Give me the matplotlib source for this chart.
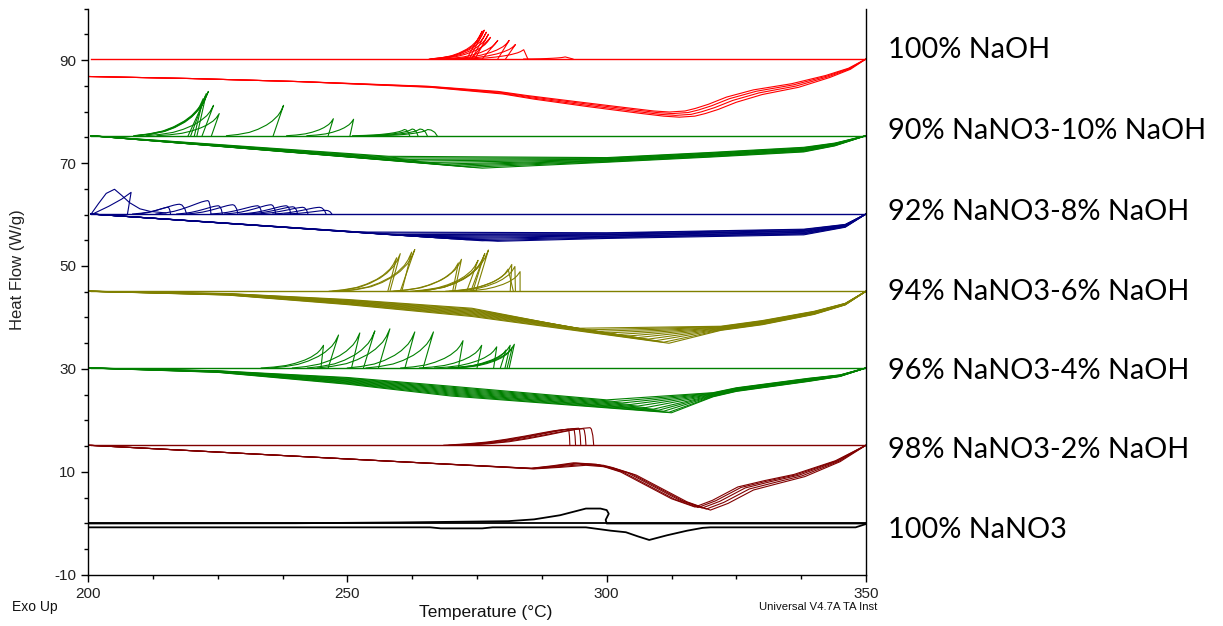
import matplotlib
matplotlib.use("Agg")
import matplotlib.pyplot as plt
from matplotlib.ticker import MultipleLocator, FixedLocator
from matplotlib import font_manager

plt.rcParams["axes.unicode_minus"] = False

# ---------------- data ----------------
labels = ["100% NaOH", "90% NaNO3-10% NaOH", "92% NaNO3-8% NaOH",
          "94% NaNO3-6% NaOH", "96% NaNO3-4% NaOH", "98% NaNO3-2% NaOH",
          "100% NaNO3"]
colors = ["#ff0000", "#008000", "#000080", "#808000", "#008000", "#800000", "#000000"]
baselines = [90.2, 75.3, 60.1, 45.1, 30.2, 15.2, 0.0]

# shared crystallisation-peak profiles (fraction of decay length, fraction of height)
sharp_px = [0, 0.05, 0.1, 0.2, 0.3, 0.45, 0.6, 0.8, 1.0]
sharp_py = [1, 0.80, 0.66, 0.48, 0.35, 0.21, 0.11, 0.04, 0]
round_px = [0, 0.05, 0.12, 0.22, 0.35, 0.5, 0.65, 0.82, 1.0]
round_py = [1, 0.97, 0.90, 0.76, 0.57, 0.37, 0.20, 0.08, 0]

# ---- 100% NaOH (red) ----
red_heat_T = [200, 220, 241, 266, 280, 286, 296, 306, 311, 314, 317, 319, 321.5, 325, 330, 337, 343, 347, 350]
red_heat_V = [86.8, 86.4, 85.8, 84.7, 83.4, 82.4, 81.0, 79.7, 79.1, 78.9, 79.1, 79.6, 80.4, 81.8, 83.3, 84.7, 86.6, 88.2, 90.2]
red_heat_w = [0, 0, 0, 0.2, 0.5, 0.7, 0.9, 1, 1, 1, 1, 1, 1, 1, 0.9, 0.7, 0.4, 0.2, 0]
red_cycle_dT = [0, -0.7, -1.3, -1.9]
red_cycle_dV = [0, 0.35, 0.7, 1.0]
# peaks: (onset T at baseline, peak T, height, decay length)
red_peaks = [(273.0, 276.0, 5.4, 10), (273.5, 276.4, 5.6, 10), (274.0, 276.8, 5.2, 11),
             (274.6, 277.2, 4.8, 11), (273.8, 277.6, 4.2, 11), (276.0, 279.0, 3.6, 11),
             (279.0, 281.2, 3.6, 12), (280.5, 282.4, 2.8, 12), (284.8, 284.0, 1.8, 12),
             (293.5, 292.0, 0.4, 8)]

# ---- 90% NaNO3-10% NaOH (green) ----
g90_min_T = [258, 260, 262, 264, 266, 268, 270, 272, 274, 276]
g90_min_V = [71.3, 71.0, 70.7, 70.4, 70.1, 69.8, 69.6, 69.4, 69.2, 69.0]
g90_right_T = [300, 320, 338, 344, 350]
g90_right_V = [70.6, 71.6, 72.6, 73.6, 75.3]
g90_right_w = [1, 1, 1, 0.6, 0]
g90_cycle_off = [0.45, 0.35, 0.25, 0.15, 0.05, -0.05, -0.15, -0.25, -0.35, -0.45]
g90_peaks = [(219.3, 223.2, 8.6, 14), (219.8, 222.6, 7.6, 13), (220.5, 222.2, 7.2, 13),
             (221.0, 222.8, 8.2, 14), (222.0, 224.2, 5.9, 13), (223.8, 225.3, 4.3, 12),
             (235.7, 237.7, 5.9, 11), (246.3, 247.3, 3.3, 9), (250.5, 251.2, 3.2, 9),
             (262.0, 261.0, 1.2, 10), (263.6, 262.5, 1.3, 10), (265.4, 264.0, 1.3, 10),
             (267.3, 265.5, 1.2, 10)]

# ---- 92% NaNO3-8% NaOH (navy) ----
b_min_T = [252, 255, 258, 261, 264, 267, 270, 273, 276, 279]
b_min_V = [56.6, 56.4, 56.1, 55.9, 55.7, 55.5, 55.3, 55.1, 54.9, 54.8]
b_right_T = [300, 338, 346, 350]
b_right_V = [55.9, 56.6, 57.8, 60.1]
b_right_w = [1, 1, 0.5, 0]
b_cycle_off = [0.55, 0.45, 0.3, 0.2, 0.1, -0.05, -0.15, -0.3, -0.4, -0.55]
b_hump_T = [200.6, 202.0, 203.5, 205.1, 206.5, 208.0, 210.0, 212.0, 215.0]
b_hump_V = [60.1, 62.1, 64.1, 64.9, 63.7, 62.3, 61.1, 60.6, 60.3]
b_spike_T = [200.9, 204.0, 206.5, 208.3, 207.6]
b_spike_V = [60.1, 61.6, 63.0, 64.3, 60.1]
b_peaks = [(215.9, 215.4, 1.3, 6), (219.0, 217.6, 1.9, 9), (223.7, 223.1, 2.6, 10),
           (225.9, 225.1, 1.6, 8), (228.9, 227.9, 1.8, 9), (233.5, 232.7, 1.6, 9),
           (236.2, 235.3, 1.8, 9), (239.1, 238.2, 1.6, 9), (240.4, 239.5, 1.4, 9),
           (242.4, 241.4, 1.3, 9), (245.9, 244.6, 1.3, 9), (247.0, 245.9, 0.7, 8)]

# ---- 94% NaNO3-6% NaOH (olive) ----
y_left_T = [200, 227, 250, 274]
y_left_V = [45.1, 44.5, 43.0, 41.0]
y_left_w = [0, 0.3, 1.0, 1.6]
y_min_T = [294, 296, 298, 300, 302, 304, 306, 308, 309.5, 311, 312]
y_min_V = [37.9, 37.6, 37.3, 37.0, 36.7, 36.4, 36.1, 35.8, 35.5, 35.2, 35.0]
y_right_T = [322, 330, 340, 346, 350]
y_right_V = [37.9, 39.0, 40.9, 42.6, 45.1]
y_right_w = [0.8, 0.8, 0.6, 0.3, 0]
y_cycle_off = [0.5, 0.4, 0.3, 0.2, 0.1, 0, -0.1, -0.2, -0.3, -0.4, -0.5]
y_peaks = [(258.2, 260.2, 7.3, 13), (257.8, 259.5, 6.5, 13), (260.2, 263.0, 8.1, 14),
           (260.5, 262.4, 7.6, 14), (270.7, 272.0, 6.2, 13), (270.3, 271.4, 5.5, 13),
           (273.0, 275.2, 6.0, 13), (273.8, 276.5, 7.3, 13), (274.8, 277.2, 8.0, 14),
           (274.2, 276.2, 6.5, 13), (281.4, 281.7, 5.2, 12), (282.4, 282.3, 4.8, 12),
           (283.3, 283.3, 3.8, 11), (282.0, 281.0, 4.3, 12)]

# ---- 96% NaNO3-4% NaOH (green) ----
g96_left_T = [200, 225, 250, 270]
g96_left_V = [30.2, 29.5, 27.7, 25.7]
g96_left_w = [0, 0.3, 1.3, 1.9]
g96_min_T = [300, 301.5, 303, 304.5, 306, 307.5, 309, 310, 311, 312, 312.5]
g96_min_V = [24.0, 23.7, 23.4, 23.1, 22.8, 22.5, 22.2, 22.0, 21.8, 21.6, 21.5]
g96_right_T = [320.5, 325, 339, 345, 350]
g96_right_V = [25.0, 26.0, 27.9, 28.7, 30.2]
g96_right_w = [0.8, 0.7, 0.6, 0.3, 0]
g96_cycle_off = [0.5, 0.4, 0.3, 0.2, 0.1, 0, -0.1, -0.2, -0.3, -0.4, -0.5]
g96_peaks = [(244.9, 245.4, 4.4, 12), (246.3, 248.3, 6.4, 13), (250.8, 252.4, 6.8, 13),
             (253.1, 255.3, 7.2, 13), (256.0, 258.2, 7.6, 14), (261.1, 263.0, 7.0, 13),
             (264.6, 266.6, 7.0, 13), (271.4, 272.3, 5.3, 12), (275.0, 275.9, 4.4, 12),
             (278.2, 278.8, 4.1, 12), (280.4, 281.4, 4.4, 12), (280.8, 281.8, 4.0, 11),
             (281.2, 282.2, 4.6, 12), (279.5, 280.6, 3.5, 11)]

# ---- 98% NaNO3-2% NaOH (dark red) ----
dr_heat_T = [200, 230, 260, 286, 291, 296, 301, 305.7, 310.6, 315.5, 320, 323.4, 328.3, 333.2, 338.2, 345, 350]
dr_heat_V = [15.2, 13.6, 12.0, 10.6, 10.9, 11.3, 10.9, 9.4, 6.8, 4.2, 2.6, 3.9, 6.5, 7.8, 9.1, 12.0, 15.2]
dr_heat_w = [0, 0, 0, 0.2, 0.5, 0.8, 1, 1, 1, 1, 1, 1, 1, 0.9, 0.7, 0.3, 0]
dr_cycle_dT = [0, -0.8, -1.6, -2.4, -3.0]
dr_cycle_dV = [0, 0.2, 0.4, 0.5, 0.6]
dr_peaks = [(292.9, 292.6, 3.1, 24), (294.0, 293.6, 3.2, 24), (295.0, 294.6, 3.3, 24),
            (296.0, 295.5, 3.2, 24), (297.5, 296.8, 3.4, 24)]

# ---- 100% NaNO3 (black) ----
k_cool_T = [350, 300.0, 299.8, 300.4, 300.0, 298.8, 296, 291, 286, 281, 260, 240, 199]
k_cool_V = [0.0, 0.0, 0.7, 1.9, 2.6, 2.9, 2.9, 1.6, 0.8, 0.45, 0.2, 0.05, 0.0]
k_heat_T = [199, 240, 266, 268, 276, 278, 296, 300.8, 303.7, 306, 308.2, 311.6, 315.5, 318.5, 320, 348, 350]
k_heat_V = [-0.75, -0.75, -0.75, -0.95, -0.95, -0.75, -0.75, -1.4, -1.7, -2.5, -3.2, -2.3, -1.4, -0.85, -0.75, -0.75, -0.1]

# ---------------- drawing ----------------
avail = {f.name for f in font_manager.fontManager.ttflist}
narrow = "Liberation Sans Narrow" if "Liberation Sans Narrow" in avail else "Liberation Sans"

fig = plt.figure(figsize=(12.23, 6.26), dpi=100)
ax = fig.add_axes([0.0720, 0.0815, 0.6361, 0.9049])
LW = 0.8


def draw(T, V, c, lw=LW):
    ax.plot(T, V, color=c, lw=lw, solid_joinstyle="round")


def peak(base, pk, c, px, py, rounded=False):
    t_on, t_pk, h, L = pk
    Ts, Vs = [t_on], [base]
    if rounded:
        Ts += [t_pk + 0.75 * (t_on - t_pk), t_pk + 0.35 * (t_on - t_pk)]
        Vs += [base + 0.55 * h, base + 0.92 * h]
    for fx, fy in zip(px, py):
        Ts.append(t_pk - fx * L)
        Vs.append(base + fy * h)
    draw(Ts, Vs, c)


def fan(base, lT, lV, lw_, mT, mV, rT, rV, rw, offs, c):
    for k in range(len(mT)):
        o = offs[k]
        T = list(lT) + [mT[k]] + list(rT)
        V = [v + w * o for v, w in zip(lV, lw_)] + [mV[k]] + [v + w * o for v, w in zip(rV, rw)]
        draw(T, V, c)


def cycles(T, V, w, dTs, dVs, c):
    for dT, dV in zip(dTs, dVs):
        draw([t + ww * dT for t, ww in zip(T, w)], [v + ww * dV for v, ww in zip(V, w)], c)


# baselines (cooling segments)
for b, c in zip(baselines, colors):
    if c == "#000000":
        draw([199, 350], [b, b], c, lw=1.3)
    else:
        draw([200.5, 350], [b, b], c, lw=1.0)

# 100% NaOH
c = colors[0]
cycles(red_heat_T, red_heat_V, red_heat_w, red_cycle_dT, red_cycle_dV, c)
for p in red_peaks:
    peak(baselines[0], p, c, sharp_px, sharp_py)

# 90/10
c = colors[1]
fan(baselines[1], [200.5], [baselines[1]], [0], g90_min_T, g90_min_V,
    g90_right_T, g90_right_V, g90_right_w, g90_cycle_off, c)
for p in g90_peaks:
    peak(baselines[1], p, c, sharp_px, sharp_py, rounded=p[0] > p[1])

# 92/8
c = colors[2]
fan(baselines[2], [200.5], [baselines[2]], [0], b_min_T, b_min_V,
    b_right_T, b_right_V, b_right_w, b_cycle_off, c)
draw(b_hump_T, b_hump_V, c)
draw(b_spike_T, b_spike_V, c)
for p in b_peaks:
    peak(baselines[2], p, c, round_px, round_py, rounded=True)

# 94/6
c = colors[3]
fan(baselines[3], y_left_T, y_left_V, y_left_w, y_min_T, y_min_V,
    y_right_T, y_right_V, y_right_w, y_cycle_off, c)
for p in y_peaks:
    peak(baselines[3], p, c, sharp_px, sharp_py)

# 96/4
c = colors[4]
fan(baselines[4], g96_left_T, g96_left_V, g96_left_w, g96_min_T, g96_min_V,
    g96_right_T, g96_right_V, g96_right_w, g96_cycle_off, c)
for p in g96_peaks:
    peak(baselines[4], p, c, sharp_px, sharp_py)

# 98/2
c = colors[5]
cycles(dr_heat_T, dr_heat_V, dr_heat_w, dr_cycle_dT, dr_cycle_dV, c)
for p in dr_peaks:
    peak(baselines[5], p, c, round_px, round_py, rounded=True)

# 100% NaNO3
c = colors[6]
draw(k_cool_T, k_cool_V, c, lw=1.3)
draw(k_heat_T, k_heat_V, c, lw=1.3)

# axes styling
ax.set_xlim(200, 350)
ax.set_ylim(-10, 100)
ax.xaxis.set_major_locator(FixedLocator([200, 250, 300, 350]))
ax.xaxis.set_minor_locator(MultipleLocator(12.5))
ax.yaxis.set_major_locator(FixedLocator([-10, 10, 30, 50, 70, 90]))
ax.yaxis.set_minor_locator(MultipleLocator(5))
ax.spines["top"].set_visible(False)
for s in ("left", "bottom", "right"):
    ax.spines[s].set_linewidth(1.0)
    ax.spines[s].set_color("#000000")
ax.tick_params(axis="both", which="major", direction="out", length=5, width=1, colors="#000000",
               labelcolor="#222222", labelsize=11)
ax.tick_params(axis="both", which="minor", direction="out", length=3, width=1, colors="#000000")
for lab in ax.get_xticklabels() + ax.get_yticklabels():
    lab.set_fontfamily(narrow)

fig.text(18 / 1223, 1 - 270 / 626, "Heat Flow (W/g)", rotation=90, fontsize=12,
         fontfamily="Liberation Sans", color="#222222", ha="center", va="center")
fig.text(0.397, 0.022, "Temperature (\u00b0C)", fontsize=12.5, fontfamily=narrow,
         ha="center", va="center", color="#111111")
fig.text(0.010, 0.030, "Exo Up", fontsize=10, fontfamily=narrow, ha="left", va="center", color="#111111")
fig.text(0.717, 0.030, "Universal V4.7A TA Inst", fontsize=8.2, fontfamily=narrow,
         ha="right", va="center", color="#111111")

label_y_px = [50, 131, 212, 292, 371, 450, 530]
for t, ypx in zip(labels, label_y_px):
    fig.text(888 / 1223, 1 - ypx / 626, t, fontsize=20.8, fontfamily="Lato",
             ha="left", va="center", color="#000000")

fig.savefig("out.png", dpi=100)
